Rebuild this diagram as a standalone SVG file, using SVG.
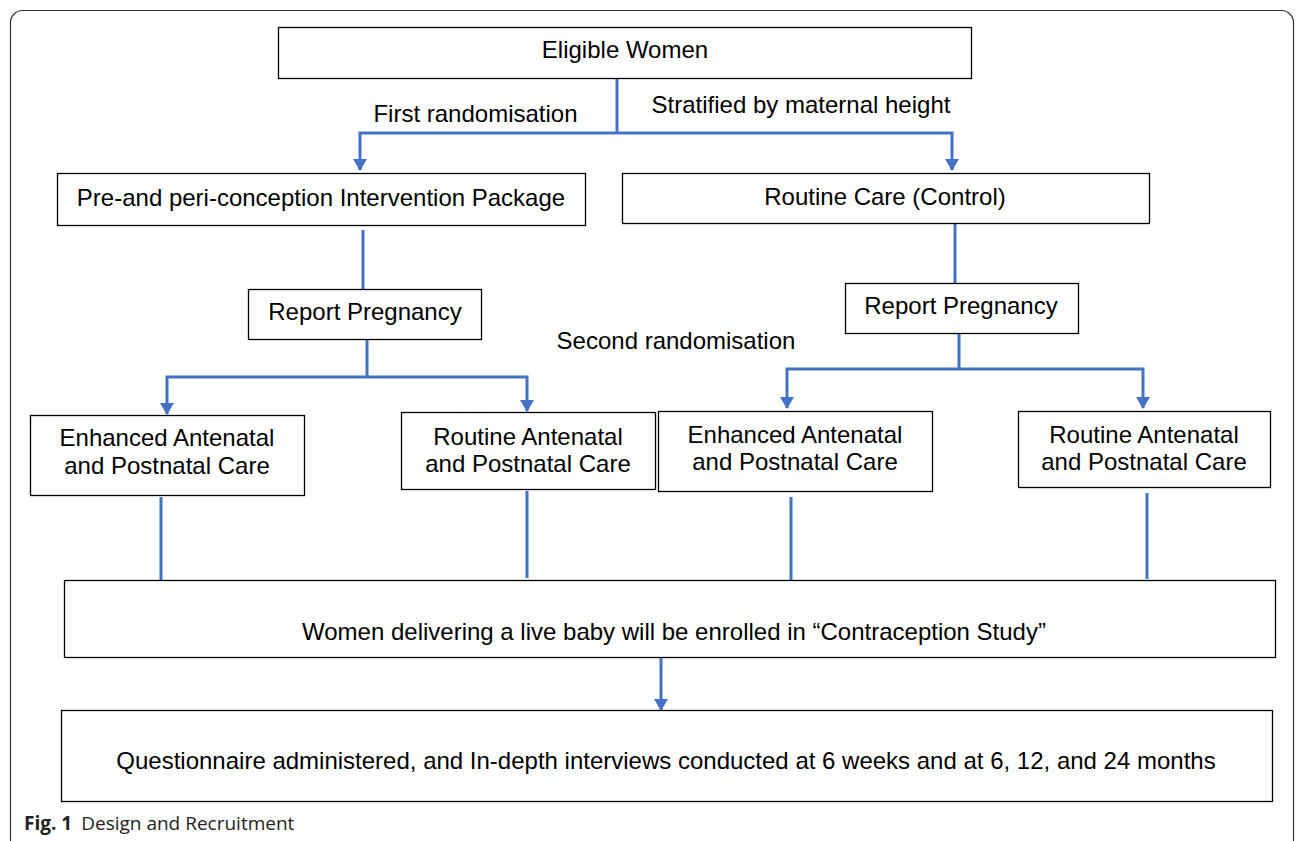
<svg xmlns="http://www.w3.org/2000/svg" width="1296" height="841" viewBox="0 0 1296 841">
<style>
.box{fill:#fff;stroke:#000;stroke-width:1.3}
.t{font-family:"Liberation Sans",Arial,sans-serif;font-size:24px;fill:#000;text-anchor:middle}
.c{fill:none;stroke:#4472C4;stroke-width:3}
.cap{font-family:"Open Sans","Noto Sans",sans-serif;font-size:19px;fill:#222}
</style>
<defs>
<marker id="ah" markerUnits="userSpaceOnUse" markerWidth="12" markerHeight="14" refX="11" refY="7" orient="auto-start-reverse" viewBox="0 0 12 14">
<path d="M0,0 L12,7 L0,14 Z" fill="#4472C4"/>
</marker>
</defs>
<rect x="10.5" y="10.5" width="1283" height="842" rx="12" fill="#fff" stroke="#333" stroke-width="1.2"/>
<g id="connectors">
<path class="c" d="M617,78 V133"/>
<path class="c" d="M952,170 V133 H360 V170" marker-start="url(#ah)" marker-end="url(#ah)"/>
<path class="c" d="M363,230 V289"/>
<path class="c" d="M367,339 V377"/>
<path class="c" d="M527,411 V377 H167 V414" marker-start="url(#ah)" marker-end="url(#ah)"/>
<path class="c" d="M955,223 V283"/>
<path class="c" d="M959,333 V369"/>
<path class="c" d="M1143,408 V369 H787 V408" marker-start="url(#ah)" marker-end="url(#ah)"/>
<path class="c" d="M161,497 V582"/>
<path class="c" d="M527,491 V578"/>
<path class="c" d="M791,497 V583"/>
<path class="c" d="M1147,493 V579"/>
<path class="c" d="M661,658 V710" marker-end="url(#ah)"/>
</g>
<g id="labels">
<text class="t" x="475.5" y="122">First randomisation</text>
<text class="t" x="801" y="113">Stratified by maternal height</text>
<text class="t" x="676" y="349">Second randomisation</text>
</g>
<g id="eligible"><rect class="box" x="278.5" y="27.5" width="693" height="51"/><text class="t" x="625" y="58">Eligible Women</text></g>
<g id="intervention"><rect class="box" x="57.5" y="173.5" width="528" height="52"/><text class="t" x="321" y="206">Pre-and peri-conception Intervention Package</text></g>
<g id="control"><rect class="box" x="622.5" y="173.5" width="527" height="50"/><text class="t" x="885" y="205">Routine Care (Control)</text></g>
<g id="report-left"><rect class="box" x="248.5" y="289.5" width="233" height="50"/><text class="t" x="365" y="320">Report Pregnancy</text></g>
<g id="report-right"><rect class="box" x="845.5" y="283.5" width="233" height="50"/><text class="t" x="961" y="314">Report Pregnancy</text></g>
<g id="enhanced-left"><rect class="box" x="30.5" y="415.5" width="274" height="80"/><text class="t" x="167" y="446">Enhanced Antenatal</text><text class="t" x="167" y="474">and Postnatal Care</text></g>
<g id="routine-left"><rect class="box" x="401.5" y="412.5" width="254" height="77"/><text class="t" x="528" y="445">Routine Antenatal</text><text class="t" x="528" y="472">and Postnatal Care</text></g>
<g id="enhanced-right"><rect class="box" x="658.5" y="411.5" width="274" height="80"/><text class="t" x="795" y="443">Enhanced Antenatal</text><text class="t" x="795" y="470">and Postnatal Care</text></g>
<g id="routine-right"><rect class="box" x="1018.5" y="411.5" width="252" height="76"/><text class="t" x="1144" y="443">Routine Antenatal</text><text class="t" x="1144" y="470">and Postnatal Care</text></g>
<g id="contraception"><rect class="box" x="64.5" y="580.5" width="1211" height="77"/><text class="t" x="674" y="640">Women delivering a live baby will be enrolled in “Contraception Study”</text></g>
<g id="questionnaire"><rect class="box" x="61.5" y="710.5" width="1211" height="91"/><text class="t" x="666" y="769">Questionnaire administered, and In-depth interviews conducted at 6 weeks and at 6, 12, and 24 months</text></g>
<g id="caption"><text class="cap" x="24" y="830"><tspan font-weight="bold">Fig. 1</tspan><tspan dx="9">Design and Recruitment</tspan></text></g>
</svg>
